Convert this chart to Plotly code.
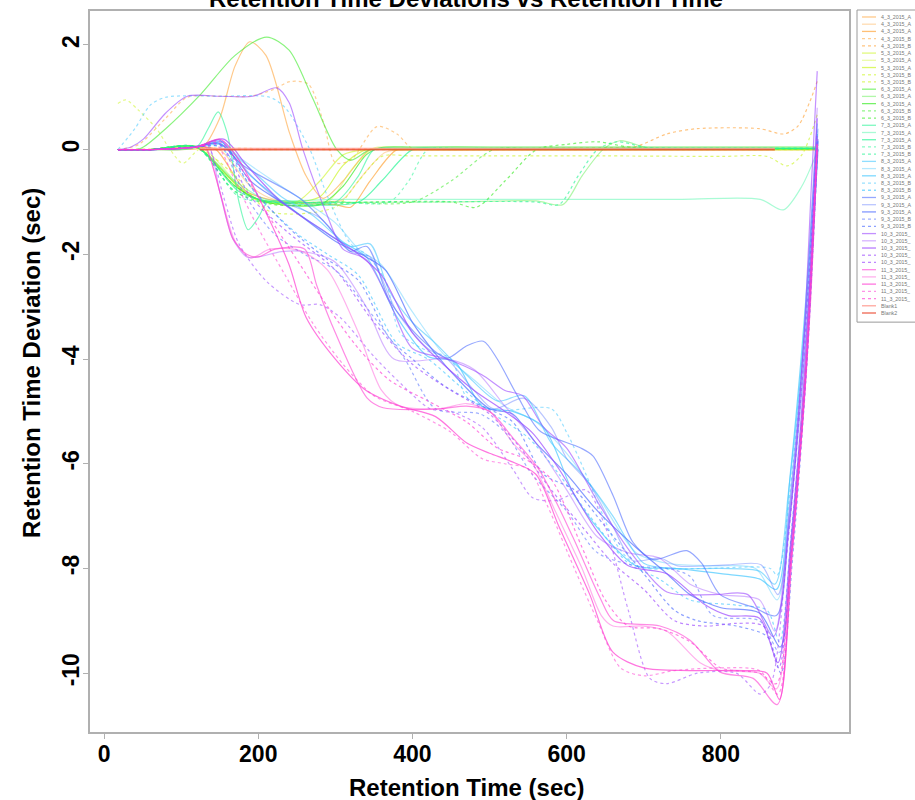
import plotly.graph_objects as go

# ---------------- data (knots) ----------------
# 4_3_2015
S_4_3_A1 = [(18,0),(60,0),(100,0),(128,0.05),(150,0.6),(170,1.6),(189,2.06),(210,1.8),(241,0.3),(262,-0.5),(284,-0.93),(310,-0.6),(345,0),(380,0),(450,0),(600,0.01),(750,0.02),(926,0.02)]
S_4_3_A2 = [(18,0),(60,0),(120,0.05),(150,0.0),(190,-0.7),(220,-0.95),(290,-1.0),(310,-0.95),(335,-0.5),(365,-0.05),(400,0),(460,0),(600,0),(750,0),(926,0)]
S_4_3_A3 = [(18,0),(60,0),(120,0.05),(145,0.0),(185,-0.8),(230,-1.0),(300,-1.05),(320,-1.1),(345,-0.6),(380,0.0),(420,0),(500,0),(650,0),(800,0),(926,0)]
S_4_3_B1 = [(18,0),(45,0.1),(80,0.6),(108,1.0),(150,1.02),(190,1.02),(220,1.15),(241,1.3),(265,1.25),(285,0.5),(300,-0.25),(320,-0.2),(354,0.44),(380,0.3),(400,0.02),(440,0.02),(550,0.02),(700,0.02),(926,0.02)]
S_4_3_B2 = [(18,0),(100,0.02),(300,0.02),(450,0.02),(600,0.03),(660,0.04),(690,0.06),(730,0.3),(769,0.4),(850,0.4),(882,0.3),(900,0.45),(915,0.9),(926,1.35)]
# 5_3_2015
S_5_3_A1 = [(18,0),(60,0),(120,0.05),(180,-0.8),(210,-1.0),(250,-1.0),(280,-0.6),(310,-0.1),(340,0),(380,0),(450,0),(600,0),(750,0),(926,0)]
S_5_3_A2 = [(18,0),(60,0),(125,0.05),(190,-0.9),(230,-1.05),(290,-1.0),(320,-0.4),(350,0.03),(390,0.03),(450,0.03),(600,0.03),(750,0.03),(926,0.03)]
S_5_3_A3 = [(18,0),(60,0),(120,0.05),(190,-0.9),(240,-1.0),(280,-0.9),(310,-0.3),(340,0),(380,0),(450,0),(600,0),(750,0),(926,0)]
S_5_3_B1 = [(18,0.88),(28,0.95),(45,0.75),(68,0.4),(85,0.02),(102,-0.26),(125,0.02),(160,0),(220,0),(300,0),(450,0),(600,0),(750,0),(926,0)]
S_5_3_B2 = [(18,0),(60,0),(120,0.05),(170,-0.5),(215,-1.18),(300,-1.1),(330,-0.6),(360,-0.13),(400,-0.12),(500,-0.12),(650,-0.12),(800,-0.13),(860,-0.13),(886,-0.31),(905,-0.1),(926,0.72)]
# 6_3_2015
S_6_3_A1 = [(18,0),(47,0.02),(80,0.4),(125,1.05),(170,1.8),(211,2.15),(240,1.9),(270,1.0),(302,0),(320,-0.2),(345,0),(380,0.02),(450,0.02),(600,0.02),(750,0.02),(926,0.02)]
S_6_3_A2 = [(18,0),(60,0),(120,0.05),(160,-0.5),(200,-0.95),(300,-1.0),(450,-1.0),(560,-0.98),(595,-1.05),(620,-0.5),(647,0),(669,0.17),(708,0.02),(750,0.02),(850,0.02),(926,0.02)]
S_6_3_A3 = [(18,0),(60,0),(120,0.05),(170,-0.7),(210,-1.0),(280,-1.05),(310,-0.7),(340,-0.1),(360,0.04),(400,0.05),(500,0.05),(650,0.05),(800,0.05),(926,0.05)]
S_6_3_B1 = [(18,0),(60,0),(120,0.05),(170,-0.7),(210,-1.0),(300,-1.0),(400,-1.0),(450,-0.6),(505,0),(550,0.02),(650,0.02),(800,0.02),(926,0.02)]
S_6_3_B2 = [(18,0),(60,0),(120,0.05),(170,-0.8),(220,-1.05),(350,-1.0),(450,-1.0),(483,-1.1),(520,-0.6),(561,0),(600,0.1),(640,0.15),(680,0.05),(720,0.02),(800,0.02),(926,0.02)]
# 7_3_2015
S_7_3_A1 = [(18,0),(60,0),(120,0.05),(135,0.4),(148,0.72),(160,0.3),(175,-1.0),(187,-1.53),(200,-1.3),(213,-1.0),(300,-1.0),(330,-0.5),(350,0),(390,0.03),(450,0.03),(600,0.03),(750,0.03),(926,0.03)]
S_7_3_A2 = [(18,0),(60,0),(120,0.05),(170,-0.6),(210,-0.95),(300,-0.95),(450,-0.95),(600,-0.95),(750,-0.95),(851,-0.95),(881,-1.15),(905,-0.7),(926,0)]
S_7_3_A3 = [(18,0),(60,0),(120,0.05),(175,-0.8),(220,-1.0),(330,-1.0),(360,-0.6),(400,0),(440,0.02),(520,0.02),(650,0.02),(800,0.02),(926,0.02)]
S_7_3_B1 = [(18,0),(60,0),(120,0.05),(170,-0.8),(215,-1.0),(300,-1.0),(370,-1.0),(395,-0.6),(420,0.0),(460,0.02),(550,0.02),(700,0.02),(926,0.02)]
S_7_3_B2 = [(18,0),(60,0),(120,0.05),(175,-0.9),(220,-1.0),(400,-1.0),(560,-1.0),(590,-1.05),(615,-0.5),(640,0),(665,0.15),(700,0.05),(740,0.03),(820,0.03),(926,0.03)]
# 8_3_2015
S_8_3_A1 = [(18,0),(60,0),(120,0.05),(150,0.1),(185,-0.3),(230,-0.9),(270,-1.25),(320,-1.85),(345,-1.8),(370,-2.7),(400,-3.3),(430,-3.7),(470,-4.3),(510,-4.8),(545,-4.7),(580,-5.6),(620,-6.2),(660,-7.0),(700,-7.9),(740,-8.0),(800,-8.0),(850,-8.05),(870,-8.3),(888,-6.5),(908,-3.5),(925,0.3)]
S_8_3_A2 = [(18,0),(60,0),(120,0.05),(150,0.15),(180,-0.2),(230,-0.7),(300,-1.4),(330,-1.9),(360,-2.2),(400,-3.1),(440,-3.9),(480,-4.4),(520,-4.9),(560,-5.2),(600,-5.8),(640,-6.6),(690,-7.7),(730,-7.9),(790,-7.95),(845,-8.0),(873,-8.6),(890,-6.6),(910,-3.2),(925,0.2)]
S_8_3_A3 = [(18,0),(60,0),(120,0.05),(150,0.12),(190,-0.5),(250,-1.2),(300,-1.7),(340,-2.05),(380,-3.2),(420,-3.95),(455,-4.05),(490,-4.9),(530,-5.0),(570,-5.3),(610,-6.6),(650,-7.4),(690,-7.95),(740,-8.0),(800,-8.1),(850,-8.2),(872,-8.4),(890,-6.2),(910,-2.9),(925,0.5)]
S_8_3_B1 = [(18,0),(40,0.4),(60,0.85),(80,1.0),(150,1.02),(215,1.0),(235,0.8),(267,0.0),(290,-0.9),(320,-1.8),(340,-2.0),(365,-2.5),(384,-3.5),(420,-3.85),(449,-3.98),(471,-4.74),(510,-4.98),(580,-4.95),(600,-5.4),(625,-6.2),(643,-6.85),(665,-7.55),(686,-7.9),(704,-8.0),(780,-8.0),(864,-8.0),(873,-8.13),(890,-6.5),(910,-3.2),(925,0.4)]
S_8_3_B2 = [(18,0),(60,0),(120,0.05),(150,0.05),(200,-0.9),(250,-1.6),(290,-2.0),(330,-2.4),(380,-3.7),(420,-4.0),(460,-4.5),(500,-5.0),(550,-5.5),(590,-6.2),(630,-7.0),(680,-7.9),(720,-8.2),(760,-8.6),(820,-8.7),(860,-8.8),(876,-9.4),(892,-7.2),(912,-3.8),(925,0.3)]
# 9_3_2015
S_9_3_A1 = [(18,0),(60,0),(100,0.02),(125,0.08),(150,0.12),(180,-0.3),(254,-0.93),(290,-1.45),(319,-1.94),(341,-1.85),(371,-2.9),(410,-3.6),(445,-3.98),(470,-3.75),(492,-3.66),(510,-4.0),(535,-4.67),(565,-5.37),(617,-5.69),(634,-5.85),(660,-6.6),(686,-7.5),(712,-7.83),(756,-7.66),(775,-7.9),(799,-8.5),(842,-8.74),(872,-8.9),(888,-7.2),(905,-4.6),(918,-2.0),(926,0.0)]
S_9_3_A2 = [(18,0),(60,0),(120,0.05),(155,0.15),(185,-0.4),(225,-0.95),(280,-1.3),(320,-1.95),(345,-2.05),(380,-3.1),(420,-3.8),(445,-4.0),(480,-4.6),(505,-4.95),(545,-4.75),(580,-5.3),(600,-5.9),(630,-6.4),(660,-7.2),(686,-7.85),(721,-7.8),(744,-7.95),(810,-7.93),(852,-7.93),(874,-8.5),(890,-6.8),(908,-3.8),(920,-1.2),(926,0.4)]
S_9_3_A3 = [(18,0),(60,0),(120,0.05),(150,0.18),(190,-0.6),(240,-1.1),(300,-1.75),(340,-2.05),(365,-2.3),(400,-3.3),(430,-3.9),(460,-4.4),(500,-4.95),(530,-5.05),(560,-5.6),(600,-6.2),(640,-6.9),(690,-7.6),(730,-8.1),(760,-8.5),(800,-8.75),(850,-8.85),(877,-9.5),(892,-7.4),(910,-4.2),(926,0.2)]
S_9_3_B1 = [(18,0),(60,0),(120,0.05),(150,0.1),(180,-0.8),(220,-1.6),(260,-2.0),(300,-2.3),(350,-3.2),(390,-4.0),(430,-4.95),(488,-5.05),(520,-5.4),(555,-6.2),(600,-6.9),(640,-7.7),(690,-7.95),(730,-8.0),(760,-8.15),(790,-8.9),(850,-9.0),(876,-9.6),(892,-7.6),(910,-4.4),(926,0.1)]
S_9_3_B2 = [(18,0),(60,0),(120,0.05),(155,0.05),(190,-0.7),(240,-1.5),(290,-2.1),(330,-2.5),(370,-3.6),(400,-4.0),(440,-4.5),(490,-4.9),(530,-5.2),(570,-6.2),(610,-6.5),(650,-7.2),(700,-8.1),(740,-8.8),(770,-9.0),(820,-9.1),(860,-9.3),(878,-10.0),(893,-7.8),(912,-4.0),(926,0.2)]
# 10_3_2015
S_10_3_A1 = [(18,0),(35,0.05),(51,0.2),(80,0.7),(108,1.02),(150,1.02),(193,1.02),(224,1.18),(240,0.9),(258,0.0),(289,-1.24),(310,-1.9),(340,-2.1),(370,-2.9),(400,-3.8),(445,-4.0),(490,-4.3),(520,-4.6),(543,-4.7),(570,-5.3),(600,-5.7),(643,-6.8),(686,-7.75),(730,-8.45),(790,-8.5),(835,-8.5),(868,-9.3),(888,-7.3),(908,-3.5),(918,-0.5),(925,1.5)]
S_10_3_A2 = [(18,0),(60,0),(120,0.05),(135,0.1),(150,-0.8),(167,-1.7),(185,-2.05),(200,-2.05),(230,-1.95),(260,-1.95),(300,-2.15),(340,-3.0),(376,-4.0),(445,-4.0),(480,-4.2),(520,-4.9),(560,-5.6),(600,-6.5),(640,-7.4),(680,-7.7),(720,-7.8),(760,-8.3),(800,-8.5),(850,-8.6),(870,-9.2),(888,-7.0),(908,-3.6),(925,0.8)]
S_10_3_A3 = [(18,0),(60,0),(120,0.05),(155,0.2),(185,-0.3),(230,-1.0),(290,-1.6),(330,-2.0),(360,-2.4),(400,-3.5),(440,-4.1),(480,-4.6),(520,-5.0),(555,-5.4),(590,-6.1),(640,-7.3),(680,-7.95),(730,-8.1),(780,-8.7),(810,-8.9),(850,-8.95),(874,-9.8),(890,-7.6),(910,-3.9),(925,0.6)]
S_10_3_B1 = [(18,0),(60,0),(120,0.05),(135,0.05),(155,-0.9),(175,-1.8),(211,-2.52),(254,-2.96),(280,-2.96),(306,-3.2),(350,-3.95),(380,-4.4),(423,-4.95),(450,-5.0),(490,-5.3),(530,-6.1),(556,-6.65),(587,-6.7),(625,-6.5),(650,-7.2),(680,-8.8),(708,-10.1),(730,-10.2),(770,-10.0),(820,-10.0),(851,-10.4),(865,-10.2),(885,-7.8),(905,-4.5),(925,0.2)]
S_10_3_B2 = [(18,0),(60,0),(120,0.05),(150,0.1),(190,-0.9),(240,-1.6),(300,-2.3),(350,-3.3),(400,-4.1),(450,-4.6),(500,-5.05),(540,-5.7),(580,-6.5),(620,-7.2),(660,-7.9),(700,-8.4),(740,-9.0),(780,-9.1),(820,-9.05),(855,-9.1),(875,-9.9),(892,-7.6),(912,-3.9),(925,0.3)]
# 11_3_2015
S_11_3_A1 = [(18,0),(60,0),(120,0.05),(130,0.08),(150,-0.8),(167,-1.7),(185,-2.0),(200,-2.05),(222,-1.9),(260,-1.9),(276,-2.6),(300,-3.5),(341,-4.74),(362,-4.93),(436,-4.95),(470,-4.9),(500,-5.0),(530,-5.5),(565,-6.13),(608,-7.4),(643,-8.55),(661,-9.0),(721,-9.1),(760,-9.37),(799,-9.98),(842,-10.1),(873,-10.6),(890,-8.0),(905,-5.4),(916,-3.0),(925,0.0)]
S_11_3_A2 = [(18,0),(60,0),(120,0.05),(130,0.1),(152,-0.9),(170,-1.75),(190,-2.07),(215,-1.9),(254,-1.93),(290,-2.3),(330,-3.5),(360,-4.6),(384,-4.9),(436,-4.95),(470,-4.85),(500,-5.0),(530,-5.6),(556,-6.0),(585,-6.9),(620,-8.0),(645,-8.9),(660,-9.1),(700,-9.1),(730,-9.2),(773,-9.8),(800,-9.95),(850,-10.0),(872,-10.3),(890,-7.8),(908,-4.5),(925,0.0)]
S_11_3_A3 = [(18,0),(60,0),(120,0.05),(150,0.2),(175,-0.2),(210,-1.2),(240,-2.2),(262,-3.2),(300,-4.0),(340,-4.6),(384,-4.9),(430,-5.1),(470,-5.6),(500,-5.8),(527,-5.95),(560,-6.2),(590,-7.2),(630,-8.5),(660,-9.6),(700,-9.9),(760,-9.95),(830,-9.95),(860,-10.0),(876,-10.5),(892,-7.8),(910,-4.4),(925,0.1)]
S_11_3_B1 = [(18,0),(60,0),(120,0.05),(145,0.1),(170,-0.6),(200,-1.5),(235,-2.4),(270,-3.3),(310,-4.1),(350,-4.7),(400,-5.0),(450,-5.4),(490,-5.9),(520,-6.0),(550,-6.1),(575,-6.8),(610,-8.0),(640,-9.0),(670,-9.9),(700,-10.05),(740,-9.95),(800,-9.9),(850,-9.95),(874,-10.4),(892,-7.8),(910,-4.3),(925,0.2)]
S_11_3_B2 = [(18,0),(60,0),(120,0.05),(150,0.15),(180,-0.4),(215,-1.3),(250,-2.1),(290,-3.0),(330,-3.8),(370,-4.4),(420,-4.8),(470,-5.2),(510,-5.7),(545,-5.9),(580,-6.3),(620,-7.6),(650,-8.6),(680,-9.1),(720,-9.15),(760,-9.4),(800,-9.9),(850,-10.0),(872,-10.2),(890,-7.9),(910,-4.2),(925,0.1)]
# blanks
S_Blank1 = [(124,0.02),(300,0.02),(600,0.02),(870,0.02)]
S_Blank2 = [(124,0.0),(300,0.0),(600,0.0),(870,0.0)]

GROUP_NAMES = ["4_3_2015", "5_3_2015", "6_3_2015", "7_3_2015", "8_3_2015", "9_3_2015", "10_3_2015", "11_3_2015"]
MEMBER_SUFFIX = ["A", "A", "A", "B", "B"]
GROUP_RGB = [(255, 165, 60), (205, 245, 40), (60, 235, 40), (40, 245, 150),
             (70, 200, 255), (80, 110, 255), (155, 70, 255), (255, 60, 210)]
MEMBER_ALPHA = [0.6, 0.4, 0.7, 0.55, 0.65]
MEMBER_DASH = ["solid", "solid", "solid", "dot", "dot"]
BLANK_NAMES = ["Blank1", "Blank2"]
BLANK_RGB = [(255, 150, 140), (235, 75, 50)]

GROUP_SERIES = [
    [S_4_3_A1, S_4_3_A2, S_4_3_A3, S_4_3_B1, S_4_3_B2],
    [S_5_3_A1, S_5_3_A2, S_5_3_A3, S_5_3_B1, S_5_3_B2],
    [S_6_3_A1, S_6_3_A2, S_6_3_A3, S_6_3_B1, S_6_3_B2],
    [S_7_3_A1, S_7_3_A2, S_7_3_A3, S_7_3_B1, S_7_3_B2],
    [S_8_3_A1, S_8_3_A2, S_8_3_A3, S_8_3_B1, S_8_3_B2],
    [S_9_3_A1, S_9_3_A2, S_9_3_A3, S_9_3_B1, S_9_3_B2],
    [S_10_3_A1, S_10_3_A2, S_10_3_A3, S_10_3_B1, S_10_3_B2],
    [S_11_3_A1, S_11_3_A2, S_11_3_A3, S_11_3_B1, S_11_3_B2],
]
BLANK_SERIES = [S_Blank1, S_Blank2]

X_TICKS = [0, 200, 400, 600, 800]
Y_TICKS = [-10, -8, -6, -4, -2, 0, 2]
Y_TICK_TEXT = ["-10", "-8", "-6", "-4", "-2", "0", "2"]

# ---------------- layout geometry ----------------
W, H = 915, 800
ML, MR, MT, MB = 90, 66, 9, 68
PW, PH = W - ML - MR, H - MT - MB


def px2x(px):
    return (px - ML) / PW


def py2y(py):
    return (H - MB - py) / PH


FONT = "Liberation Sans, Arial, sans-serif"

entries = []  # (label, rgba, dash, width, points)
for g, name in enumerate(GROUP_NAMES):
    r, gg, b = GROUP_RGB[g]
    for m in range(5):
        rgba = f"rgba({r},{gg},{b},{MEMBER_ALPHA[m]})"
        lab = (name + "_" + MEMBER_SUFFIX[m])[:10]
        entries.append((lab, rgba, MEMBER_DASH[m], 1.2, GROUP_SERIES[g][m]))
for k, name in enumerate(BLANK_NAMES):
    r, gg, b = BLANK_RGB[k]
    entries.append((name, f"rgba({r},{gg},{b},0.85)", "solid", 1.5, BLANK_SERIES[k]))

fig = go.Figure()
for label, rgba, dash, wd, pts in entries:
    fig.add_trace(go.Scatter(
        x=[p[0] for p in pts], y=[p[1] for p in pts], mode="lines", name=label,
        line=dict(color=rgba, width=wd, dash=dash, shape="spline", smoothing=0.8),
        showlegend=False, hoverinfo="skip"))

shapes = []
annotations = []
# legend box
shapes.append(dict(type="rect", xref="paper", yref="paper",
                   x0=px2x(857), x1=px2x(945), y0=py2y(321), y1=py2y(8),
                   line=dict(color="#9a9a9a", width=1), fillcolor="white", layer="below"))
for i, (label, rgba, dash, wd, pts) in enumerate(entries):
    yy = 15 + i * 7.24
    shapes.append(dict(type="line", xref="paper", yref="paper",
                       x0=px2x(862), x1=px2x(876), y0=py2y(yy), y1=py2y(yy),
                       line=dict(color=rgba, width=1.3, dash=dash)))
    annotations.append(dict(text=label, xref="paper", yref="paper", x=px2x(879), y=py2y(yy),
                            xanchor="left", yanchor="middle", showarrow=False,
                            font=dict(family=FONT, size=5.3, color="#777")))

annotations.append(dict(text="Retention Time Deviations vs Retention Time", xref="paper", yref="paper",
                        x=px2x(466), y=py2y(12), xanchor="center", yanchor="bottom", showarrow=False,
                        font=dict(family=FONT, size=24, color="black", weight="bold")))
annotations.append(dict(text="Retention Time (sec)", xref="paper", yref="paper",
                        x=px2x(467), y=py2y(788), xanchor="center", yanchor="middle", showarrow=False,
                        font=dict(family=FONT, size=24, color="black", weight="bold")))
annotations.append(dict(text="Retention Time Deviation (sec)", xref="paper", yref="paper",
                        x=px2x(31), y=py2y(362), xanchor="center", yanchor="middle", showarrow=False,
                        textangle=-90,
                        font=dict(family=FONT, size=24, color="black", weight="bold")))

axis_common = dict(showgrid=False, zeroline=False, showline=True, mirror=True,
                   linecolor="#b0b0b0", linewidth=1.5, ticks="outside", ticklen=5,
                   tickcolor="#b0b0b0", tickwidth=1,
                   tickfont=dict(family=FONT, size=23, color="black", weight="bold"))

fig.update_layout(
    width=W, height=H, autosize=False,
    margin=dict(l=ML, r=MR, t=MT, b=MB, pad=0),
    paper_bgcolor="white", plot_bgcolor="white",
    xaxis=dict(range=[-18.2, 966.2], tickvals=X_TICKS, ticktext=[str(v) for v in X_TICKS],
               ticklabelstandoff=-4, **axis_common),
    yaxis=dict(range=[-11.124, 2.648], tickvals=Y_TICKS, ticktext=Y_TICK_TEXT, tickangle=-90,
               ticklabelstandoff=-5, **axis_common),
    shapes=shapes, annotations=annotations,
)

fig.write_html("out.html")
